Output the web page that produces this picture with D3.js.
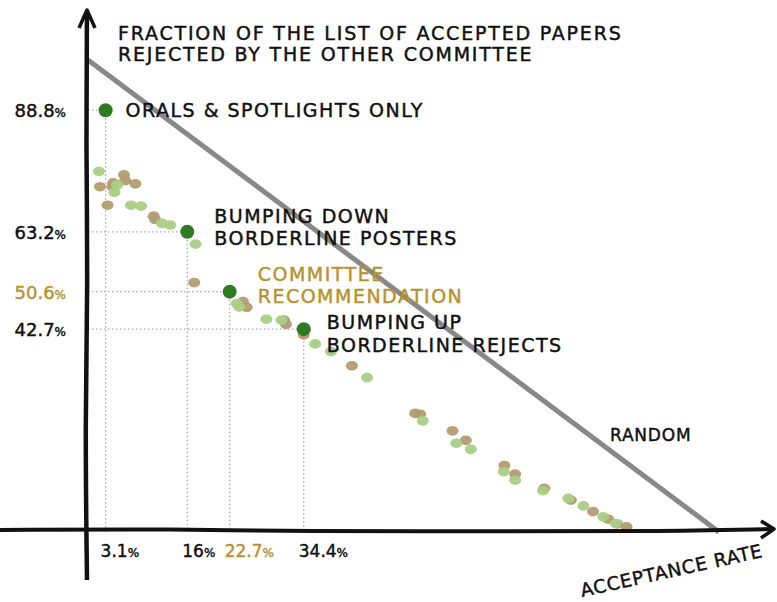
<!DOCTYPE html>
<html>
<head>
<meta charset="utf-8">
<script src="https://cdn.jsdelivr.net/npm/d3@7"></script>
<style>
  html, body { margin: 0; padding: 0; background: #fff; }
  svg { display: block; }
  text { font-family: "DejaVu Sans", "Liberation Sans", sans-serif; }
</style>
</head>
<body>
<svg id="chart" width="777" height="602"></svg>
<script>
// ---- data (acceptance rate %, fraction rejected by other committee %) ----
const keyLabels = ["ORALS & SPOTLIGHTS ONLY", "BUMPING DOWN\nBORDERLINE POSTERS", "COMMITTEE\nRECOMMENDATION", "BUMPING UP\nBORDERLINE REJECTS"];
const keyX = [3.1, 16, 22.7, 34.4];
const keyY = [88.8, 63.2, 50.6, 42.7];
const keyXTicks = ["3.1", "16", "22.7", "34.4"];
const keyYTicks = ["88.8", "63.2", "50.6", "42.7"];
const highlightIndex = 2;

const greenX = [2.05, 4.9, 4.5, 7.1, 8.7, 12.0, 13.3, 17.3, 23.8, 24.2, 28.5, 30.9, 36.2, 38.7, 44.4, 53.2, 58.5, 60.8, 66.0, 67.8, 72.2, 76.2, 78.6, 81.7, 83.7];
const greenY = [75.9, 73.1, 71.5, 68.8, 68.6, 65.0, 64.6, 60.6, 48.1, 47.4, 44.8, 44.6, 39.6, 38.0, 32.5, 23.4, 18.7, 17.4, 12.7, 10.9, 8.7, 7.1, 5.5, 3.2, 1.8];
const tanX = [2.2, 4.3, 4.15, 6.0, 6.2, 7.8, 3.4, 10.7, 10.9, 17.1, 24.8, 25.4, 31.3, 31.6, 34.4, 42.0, 52.0, 52.8, 57.9, 60.0, 66.1, 67.8, 72.4, 76.6, 80.1, 82.5, 83.9, 85.4];
const tanY = [72.7, 73.5, 72.7, 75.2, 74.0, 73.3, 68.8, 66.5, 65.8, 52.5, 48.5, 47.3, 44.6, 43.7, 41.5, 35.0, 25.0, 24.8, 21.3, 19.3, 14.0, 12.2, 9.2, 6.7, 4.3, 2.7, 1.7, 1.1];

const randomX = [0, 100];
const randomY = [100, 0];

const titleLines = ["FRACTION OF THE LIST OF ACCEPTED PAPERS", "REJECTED BY THE OTHER COMMITTEE"];
const xTitle = "ACCEPTANCE RATE";
const randomLabel = "RANDOM";

// ---- layout ----
const svg = d3.select("#chart");
const x = d3.scaleLinear().domain([0, 100]).range([86, 719]);
const y = d3.scaleLinear().domain([0, 100]).range([532, 57]);

const C = {
  key: "#2f7b22", light: "#a9cf85", tan: "#b39c72",
  gold: "#b8922e", grid: "#aaaaaa", random: "#888888", ink: "#111"
};

function inkText(sel, color) {
  return sel.attr("fill", color).attr("stroke", color).attr("stroke-width", 0.45);
}

// dotted guides
keyX.forEach((kx, i) => {
  svg.append("line")
    .attr("x1", x(0) + 2).attr("x2", x(kx))
    .attr("y1", y(keyY[i])).attr("y2", y(keyY[i]))
    .attr("stroke", C.grid).attr("stroke-width", 1.3).attr("stroke-dasharray", "1.5,2.5");
  svg.append("line")
    .attr("x1", x(kx)).attr("x2", x(kx))
    .attr("y1", y(keyY[i])).attr("y2", y(0))
    .attr("stroke", C.grid).attr("stroke-width", 1.3).attr("stroke-dasharray", "1.5,2.5");
});

// random line
svg.append("line")
  .attr("x1", x(randomX[0]) + 2).attr("y1", y(randomY[0]) + 3)
  .attr("x2", x(randomX[1])).attr("y2", y(randomY[1]))
  .attr("stroke", C.random).attr("stroke-width", 5);

// small dots
const tanData = tanX.map((v, i) => [v, tanY[i]]);
const greenData = greenX.map((v, i) => [v, greenY[i]]);
svg.append("g").selectAll("ellipse").data(tanData).join("ellipse")
  .attr("cx", d => x(d[0])).attr("cy", d => y(d[1]))
  .attr("rx", 6).attr("ry", 4.8)
  .attr("fill", C.tan).attr("opacity", 0.95);
svg.append("g").selectAll("ellipse").data(greenData).join("ellipse")
  .attr("cx", d => x(d[0])).attr("cy", d => y(d[1]))
  .attr("rx", 6).attr("ry", 4.8)
  .attr("fill", C.light).attr("opacity", 0.95);

// axes
const axisY0 = y(0) - 2;
svg.append("path")
  .attr("d", d3.line().curve(d3.curveBasis)([[0, axisY0], [180, axisY0 - 1], [300, axisY0 + 1.5], [500, axisY0 + 1], [650, axisY0 + 1.5], [773, axisY0 - 1]]))
  .attr("fill", "none").attr("stroke", C.ink).attr("stroke-width", 4);
svg.append("path")
  .attr("d", `M761,${axisY0 - 9} L774,${axisY0 - 1} L761,${axisY0 + 8}`)
  .attr("fill", "none").attr("stroke", C.ink).attr("stroke-width", 3.5).attr("stroke-linejoin", "round");
svg.append("path")
  .attr("d", d3.line().curve(d3.curveBasis)([[87, 12], [86, 150], [88, 280], [85, 420], [87, 580]]))
  .attr("fill", "none").attr("stroke", C.ink).attr("stroke-width", 4.5);
svg.append("path")
  .attr("d", "M79,28 L87,10 L95,28")
  .attr("fill", "none").attr("stroke", C.ink).attr("stroke-width", 3.5).attr("stroke-linejoin", "round");

// key dots
svg.append("g").selectAll("circle").data(keyX).join("circle")
  .attr("cx", d => x(d)).attr("cy", (d, i) => y(keyY[i]))
  .attr("r", 7).attr("fill", C.key);

// tick labels
keyYTicks.forEach((t, i) => {
  const tx = inkText(svg.append("text"), i === highlightIndex ? C.gold : C.ink)
    .attr("x", 66).attr("y", y(keyY[i]) + 7)
    .attr("text-anchor", "end").attr("font-size", 18);
  tx.append("tspan").text(t);
  tx.append("tspan").attr("font-size", 12).text("%");
});
keyXTicks.forEach((t, i) => {
  const tx = inkText(svg.append("text"), i === highlightIndex ? C.gold : C.ink)
    .attr("x", x(keyX[i]) - 5).attr("y", y(0) + 25)
    .attr("font-size", 17);
  tx.append("tspan").text(t);
  tx.append("tspan").attr("font-size", 12).text("%");
});

// annotations
const annOffsets = [[20, 7], [27, -9], [28, -11], [23, 0]];
keyLabels.forEach((lab, i) => {
  const lines = lab.split("\n");
  const t = inkText(svg.append("text"), i === highlightIndex ? C.gold : C.ink)
    .attr("x", x(keyX[i]) + annOffsets[i][0])
    .attr("y", y(keyY[i]) + annOffsets[i][1])
    .attr("font-size", 19).attr("letter-spacing", 1.5);
  lines.forEach((l, j) => t.append("tspan").attr("x", x(keyX[i]) + annOffsets[i][0]).attr("dy", j === 0 ? 0 : 22.5).text(l));
});

// title
const tt = inkText(svg.append("text"), C.ink).attr("x", 118).attr("y", 40).attr("font-size", 19).attr("letter-spacing", 1.8);
titleLines.forEach((l, j) => tt.append("tspan").attr("x", 118).attr("dy", j === 0 ? 0 : 21).text(l));

// random label
inkText(svg.append("text"), C.ink).attr("x", 610).attr("y", 441).attr("font-size", 17).attr("letter-spacing", 0.8).text(randomLabel);

// x title
inkText(svg.append("text"), C.ink)
  .attr("transform", "translate(582,597) rotate(-12.5)")
  .attr("font-size", 18.5).attr("letter-spacing", 0.8)
  .text(xTitle);
</script>
</body>
</html>
